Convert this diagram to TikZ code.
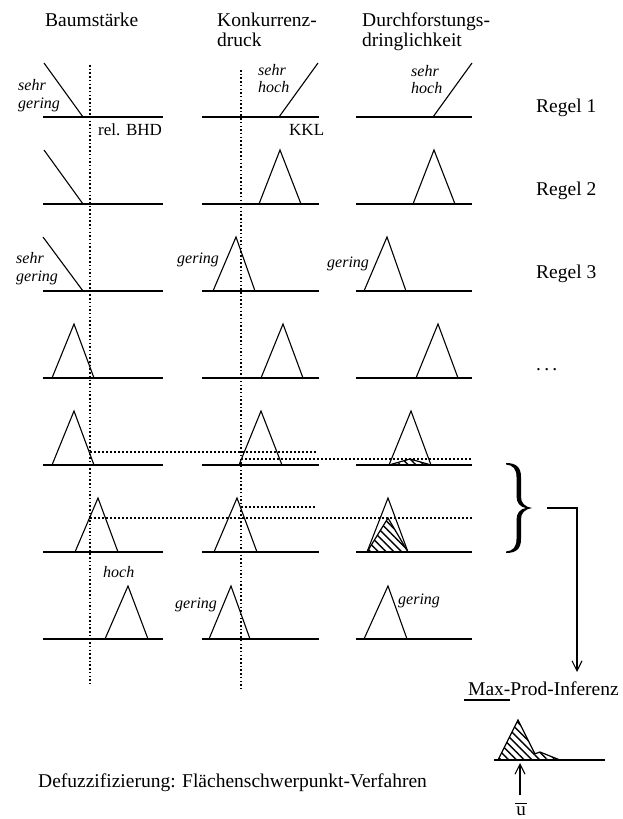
\documentclass[tikz,border=0pt]{standalone}
\usepackage{fontspec}
\setmainfont{Liberation Serif}
\usetikzlibrary{arrows.meta,patterns.meta}
\newcommand\mftri[5]{\draw[mf] (#1,#4) -- (#2,#4-#5) -- (#3,#4);}
\begin{document}
\begin{tikzpicture}[x=1pt,y=-1pt,
  axis/.style={line width=1.3pt},
  mf/.style={line width=1.1pt, line join=miter},
  vdot/.style={line width=1.5pt, dash pattern=on 1.5pt off 2.2pt},
  hdot/.style={line width=1.2pt, dash pattern=on 2.2pt off 1.8pt},
  hatch/.style={draw, line width=1.2pt, pattern={Lines[angle=-45,distance=5.5pt,line width=1.4pt]}},
  txt/.style={font=\fontsize{19.5}{22}\selectfont, inner sep=0pt, anchor=base west},
  sml/.style={font=\fontsize{17}{19}\selectfont, inner sep=0pt, anchor=base west},
  itl/.style={font=\fontsize{16}{18}\selectfont\itshape, inner sep=0pt, anchor=base west},
  arr/.style={line width=1.1pt, -{Straight Barb[length=10pt,width=10pt,line width=1.1pt]}}
]
\useasboundingbox (0,0) rectangle (623,819);

% headers
\node[txt] (h1) at (45,26) {Baumstärke};
\node[txt] (h2a) at (217,26) {Konkurrenz-};
\node[txt] (h2b) at (217,46) {druck};
\node[txt] (h3a) at (362,26) {Durchforstungs-};
\node[txt] (h3b) at (362,46) {dringlichkeit};

% axes
\foreach \b in {117,204,291,378,465,552,639}{
  \draw[axis] (43,\b) -- (163,\b);
  \draw[axis] (202,\b) -- (319,\b);
  \draw[axis] (356,\b) -- (472,\b);
}

% vertical dotted input lines
\coordinate (v1t) at (90,65);  \coordinate (v1b) at (90,683);
\coordinate (v2t) at (241,70); \coordinate (v2b) at (241,688);
\draw[vdot] (v1t) -- (v1b);
\draw[vdot] (v2t) -- (v2b);

% Row 1
\draw[mf] (44,63) -- (83,117);
\draw[mf] (279,117) -- (318,63);
\draw[mf] (433,117) -- (472,63);
\node[itl] (l11a) at (18,90) {sehr};
\node[itl] (l11b) at (18,108) {gering};
\node[itl] (l12a) at (258,75) {sehr};
\node[itl] (l12b) at (258,92) {hoch};
\node[itl] (l13a) at (411,76) {sehr};
\node[itl] (l13b) at (411,93) {hoch};
\node[sml] (bhd) at (98,135) {rel. BHD};
\node[sml] (kkl) at (289,135) {KKL};
\node[txt] (r1) at (536,112) {Regel 1};

% Row 2
\draw[mf] (44,150) -- (83,204);
\mftri{259}{280}{301}{204}{54}
\mftri{413}{434}{455}{204}{54}
\node[txt] (r2) at (536,195) {Regel 2};

% Row 3
\draw[mf] (43,237) -- (83,291);
\mftri{213}{236}{255}{291}{54}
\mftri{364}{387}{406}{291}{54}
\node[itl] (l31a) at (16,263) {sehr};
\node[itl] (l31b) at (16,281) {gering};
\node[itl] (l32) at (177,263) {gering};
\node[itl] (l33) at (327,267) {gering};
\node[txt] (r3) at (536,278) {Regel 3};

% Row 4
\mftri{52}{74}{94}{378}{54}
\mftri{261}{283}{303}{378}{54}
\mftri{416}{438}{458}{378}{54}
\node[txt] (dots) at (536,370) {.\,.\,.};

% Row 5
\mftri{52}{74}{94}{465}{54}
\mftri{239}{261}{282}{465}{54}
\mftri{389}{411}{431}{465}{54}
\draw[hdot] (90,452) -- (316,452);
\draw[hdot] (241,459) -- (472,459);
\filldraw[hatch] (389,465) -- (410,459) -- (431,465) -- cycle;

% Row 6
\mftri{75}{98}{118}{552}{54}
\mftri{214}{237}{257}{552}{54}
\mftri{367}{388}{408}{552}{54}
\draw[hdot] (90,518) -- (472,518);
\draw[hdot] (241,507) -- (315,507);
\filldraw[hatch] (367,552) -- (388,518) -- (408,552) -- cycle;

% Row 7
\mftri{105}{128}{148}{639}{53}
\mftri{209}{231}{250}{639}{53}
\mftri{364}{388}{407}{639}{53}
\node[itl] (l71) at (103,577) {hoch};
\node[itl] (l72) at (175,608) {gering};
\node[itl] (l73) at (398,604) {gering};

% brace (drawn shape) and arrow to inference
\fill (506,463) .. controls (516,463) and (521,467) .. (521,477) -- (521,497)
  .. controls (521,503) and (525,507) .. (532,508)
  .. controls (525,509) and (521,513) .. (521,519) -- (521,539)
  .. controls (521,549) and (516,553) .. (506,553) -- (506,551.5)
  .. controls (513,551) and (516.5,547) .. (516.5,539) -- (516.5,520)
  .. controls (516.5,513) and (520,509) .. (526,508)
  .. controls (520,507) and (516.5,503) .. (516.5,496) -- (516.5,477)
  .. controls (516.5,469) and (513,465) .. (506,464.5) -- cycle;
\coordinate (br) at (532,508);
\coordinate (a1) at (547,508);
\coordinate (a2) at (577,672);
\draw[arr] (a1) -| (a2);
\node[txt] (mp) at (468,695) {Max-Prod-Inferenz};
\draw[line width=1.1pt] (464,700) -- (510,700);

% output
\coordinate (o1) at (494,760); \coordinate (o2) at (605,760);
\filldraw[hatch] (498,760) -- (518,720) -- (534.9,753.8) -- (540,752) -- (560,760) -- cycle;
\draw[axis] (o1) -- (o2);
\node[inner sep=0pt, anchor=base, font=\fontsize{19}{21}\selectfont] (ub) at (521,815) {u};
\draw[line width=1pt] (515,803) -- (527,803);
\coordinate (ut) at (520,763);
\coordinate (us) at (520,795);
\draw[arr] (us) -- (ut);

\node[txt] (def) at (38,787) {Defuzzifizierung: Flächenschwerpunkt-Verfahren};
\end{tikzpicture}
\end{document}
